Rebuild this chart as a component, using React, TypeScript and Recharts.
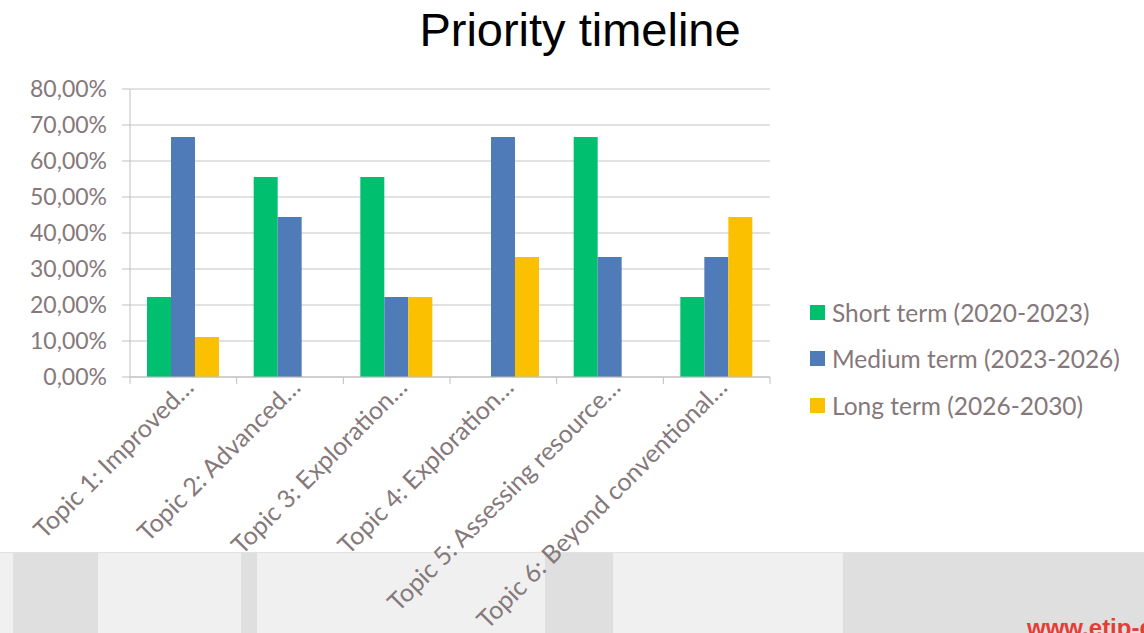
import React from "react";
import { BarChart, Bar, CartesianGrid, XAxis, YAxis } from "recharts";

const topics = [
  "Topic 1: Improved…",
  "Topic 2: Advanced…",
  "Topic 3: Exploration…",
  "Topic 4: Exploration…",
  "Topic 5: Assessing resource…",
  "Topic 6: Beyond conventional…",
];
const shortTerm = [22.22, 55.56, 55.56, 0, 66.67, 22.22];
const mediumTerm = [66.67, 44.44, 22.22, 66.67, 33.33, 33.33];
const longTerm = [11.11, 0, 22.22, 33.33, 0, 44.44];
const yTicks = [0, 10, 20, 30, 40, 50, 60, 70, 80];

const series = [
  { key: "short", name: "Short term (2020-2023)", color: "#00bf6f" },
  { key: "medium", name: "Medium term (2023-2026)", color: "#4f7bb9" },
  { key: "long", name: "Long term (2026-2030)", color: "#fbc000" },
];

const data = topics.map((t, i) => ({
  topic: t,
  short: shortTerm[i],
  medium: mediumTerm[i],
  long: longTerm[i],
}));

const TEXT = "#85787b";
const FONT = "Lato, 'Open Sans', sans-serif";
const HALF_BAND = 640 / topics.length / 2;

function TopicTick(props: any) {
  const { x, y, payload, index } = props;
  const px = x + 12;
  const py = y + 12;
  return (
    <g>
      <line x1={x - HALF_BAND} x2={x - HALF_BAND} y1={y} y2={y + 7} stroke="#bfbfbf" />
      {index === topics.length - 1 && (
        <line x1={x + HALF_BAND} x2={x + HALF_BAND} y1={y} y2={y + 7} stroke="#bfbfbf" />
      )}
      <text
        x={px}
        y={py}
        transform={`rotate(-45, ${px}, ${py})`}
        textAnchor="end"
        fill={TEXT}
        fontSize={25}
        fontFamily={FONT}
      >
        {payload.value}
      </text>
    </g>
  );
}

const stripes = [
  [13, 85],
  [241, 16],
  [545, 68],
  [843, 301],
];

export default function App() {
  return (
    <div style={{ position: "relative", width: 1144, height: 633, overflow: "hidden", background: "#fff" }}>
      <style>{`body{margin:0}`}</style>
      <div
        style={{
          position: "absolute",
          left: 0,
          top: 552,
          width: 1144,
          height: 81,
          background: "#f0f0f0",
          borderTop: "1px solid #e2e2e2",
        }}
      />
      {stripes.map(([l, w], i) => (
        <div
          key={i}
          style={{ position: "absolute", left: l, top: 553, width: w, height: 80, background: "#dfdfdf" }}
        />
      ))}
      <div
        style={{
          position: "absolute",
          left: 1027,
          top: 614,
          fontFamily: "'Liberation Sans', Arial, sans-serif",
          fontWeight: "bold",
          fontSize: 24,
          color: "#e63c35",
          whiteSpace: "nowrap",
        }}
      >
        www.etip-dg.eu
      </div>
      <div
        style={{
          position: "absolute",
          left: 0,
          top: 2,
          width: 1160,
          textAlign: "center",
          fontFamily: "'Liberation Sans', Arial, sans-serif",
          fontSize: 47,
          color: "#000",
        }}
      >
        Priority timeline
      </div>
      <div style={{ position: "absolute", left: 0, top: 0 }}>
        <BarChart
          width={1144}
          height={633}
          data={data}
          margin={{ top: 89, right: 374, left: 0, bottom: 0 }}
          barGap={0}
          barSize={24}
        >
          <CartesianGrid vertical={false} stroke="#c4c4c4" />
          <XAxis
            dataKey="topic"
            height={256}
            interval={0}
            tickLine={false}
            tickSize={0}
            tickMargin={0}
            stroke="#bfbfbf"
            tick={<TopicTick />}
          />
          <YAxis
            width={130}
            domain={[0, 80]}
            ticks={yTicks}
            tickSize={8}
            tickMargin={15}
            stroke="#bfbfbf"
            tick={{ fill: TEXT, fontSize: 23, fontFamily: FONT }}
            tickFormatter={(v: number) => `${v},00%`}
          />
          {series.map((s) => (
            <Bar key={s.key} dataKey={s.key} name={s.name} fill={s.color} isAnimationActive={false} />
          ))}
        </BarChart>
      </div>
      <div style={{ position: "absolute", left: 810, top: 289 }}>
        {series.map((s) => (
          <div
            key={s.key}
            style={{
              display: "flex",
              alignItems: "center",
              height: 46.5,
              fontFamily: FONT,
              fontSize: 24.5,
              color: TEXT,
              whiteSpace: "nowrap",
            }}
          >
            <span style={{ display: "inline-block", width: 15, height: 15, background: s.color, marginRight: 7 }} />
            {s.name}
          </div>
        ))}
      </div>
    </div>
  );
}
